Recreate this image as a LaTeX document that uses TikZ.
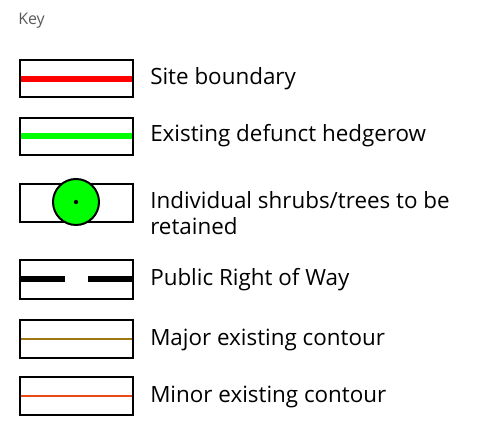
\documentclass[tikz,border=0pt]{standalone}
\usepackage{fontspec}
\setmainfont{Open Sans}
\definecolor{majorc}{RGB}{160,118,18}
\definecolor{minorc}{RGB}{235,72,22}
\definecolor{keygray}{RGB}{90,90,90}
\begin{document}
\begin{tikzpicture}[x=0.75pt,y=-0.75pt,
  keybox/.style={draw=black,line width=1.5pt,fill=white},
  label/.style={anchor=west,inner sep=0pt,font=\fontsize{16.8pt}{19.5pt}\selectfont,align=left,text=black},
]
\useasboundingbox (0,0) rectangle (493,427);
\node[anchor=west,inner sep=0pt,text=keygray,font=\fontsize{12pt}{14pt}\selectfont] (key) at (18,21) {Key};
% 1 site boundary
\draw[keybox] (20,60) rectangle (133,97);
\coordinate (a1) at (20,79); \coordinate (b1) at (133,79);
\draw[red,line width=4.5pt] (a1) -- (b1);
\draw[line width=1.5pt] (20,60) rectangle (133,97);
\node[label] (t1) at (150,79) {Site boundary};
% 2 hedgerow
\draw[keybox] (20,118) rectangle (133,155);
\coordinate (a2) at (20,136); \coordinate (b2) at (133,136);
\draw[green,line width=5pt] (a2) -- (b2);
\draw[line width=1.5pt] (20,118) rectangle (133,155);
\node[label] (t2) at (150,136) {Existing defunct hedgerow};
% 3 shrubs
\draw[keybox] (20,184) rectangle (133,222);
\node[circle,draw=black,line width=1.5pt,fill=green,minimum size=34.5pt,inner sep=0pt] (c3) at (76,202) {};
\fill[black] (c3.center) circle (1.6pt);
\node[label] (t3) at (150,213) {Individual shrubs/trees to be\\retained};
% 4 PROW
\draw[keybox] (20,260) rectangle (133,299);
\coordinate (a4) at (20,279); \coordinate (m4a) at (65,279);
\coordinate (m4b) at (88,279); \coordinate (b4) at (133,279);
\draw[black,line width=5pt] (a4) -- (m4a);
\draw[black,line width=5pt] (m4b) -- (b4);
\node[label] (t4) at (150,280) {Public Right of Way};
% 5 major contour
\draw[keybox] (20,320) rectangle (133,358);
\coordinate (a5) at (20,339); \coordinate (b5) at (133,339);
\draw[majorc,line width=1.6pt] (a5) -- (b5);
\draw[line width=1.5pt] (20,320) rectangle (133,358);
\node[label] (t5) at (150,340) {Major existing contour};
% 6 minor contour
\draw[keybox] (20,377) rectangle (133,415);
\coordinate (a6) at (20,396); \coordinate (b6) at (133,396);
\draw[minorc,line width=1.6pt] (a6) -- (b6);
\draw[line width=1.5pt] (20,377) rectangle (133,415);
\node[label] (t6) at (150,397) {Minor existing contour};
\end{tikzpicture}
\end{document}
